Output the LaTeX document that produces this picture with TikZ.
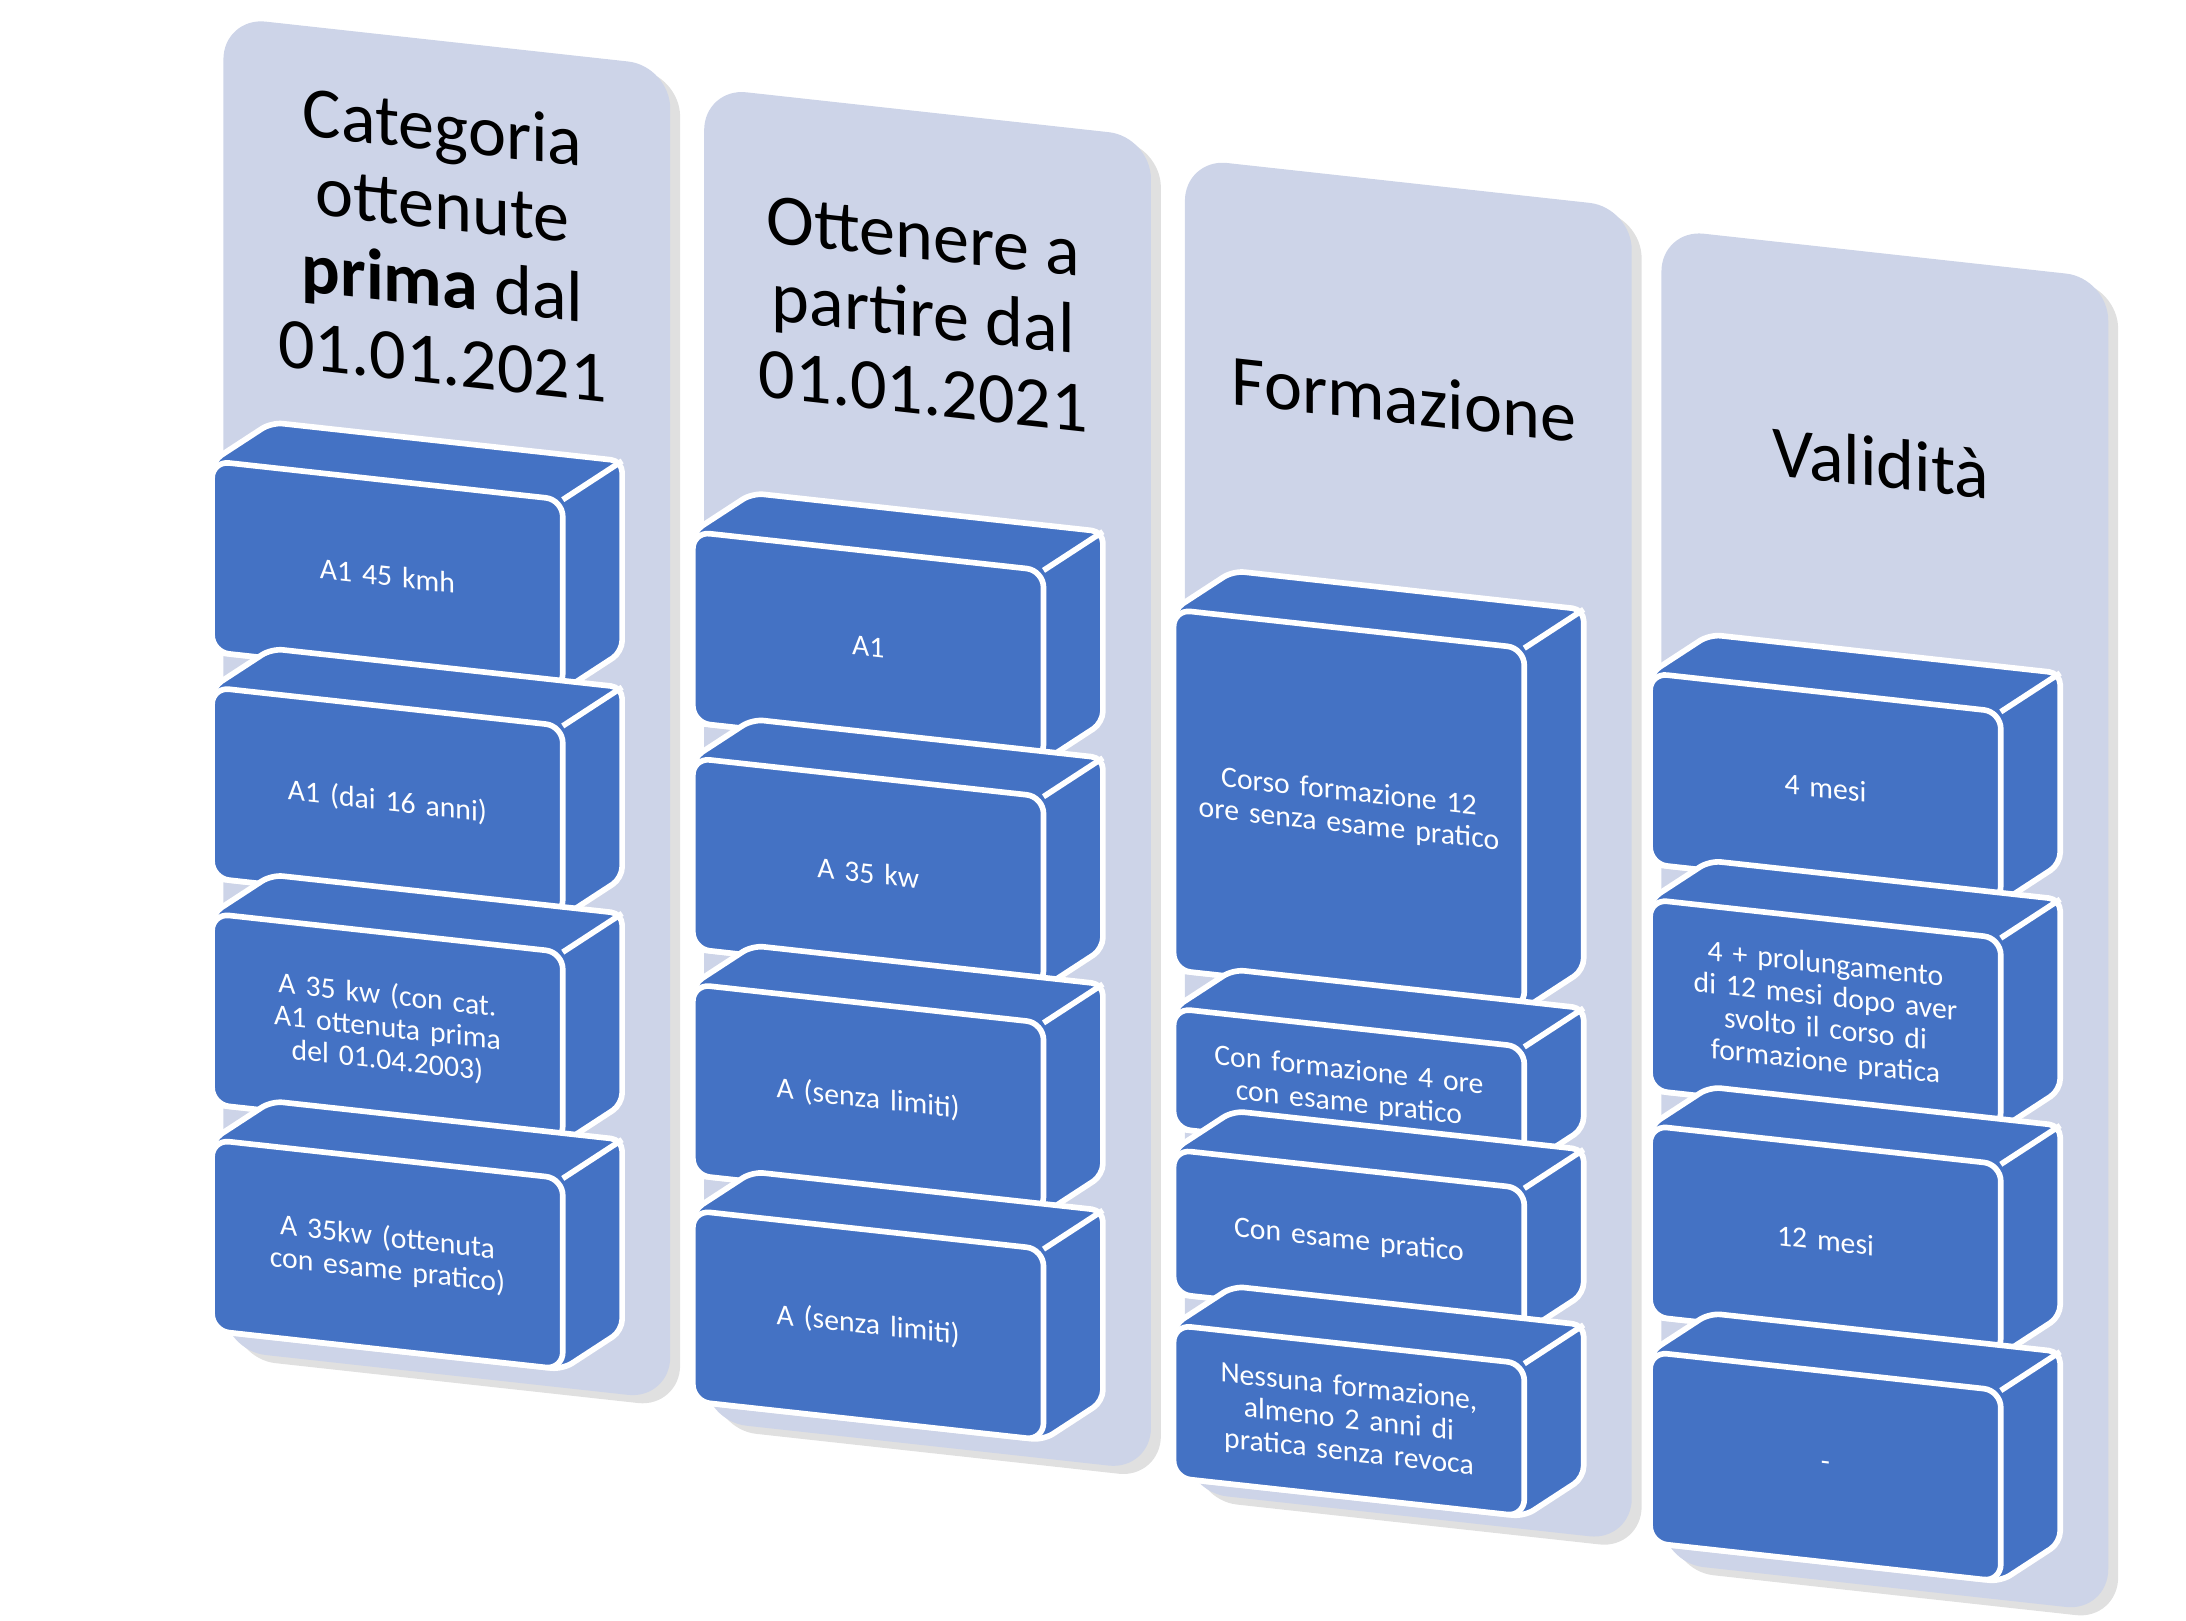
\documentclass[tikz,border=0pt]{standalone}
\usepackage{fontspec}
\setmainfont{Carlito}
\definecolor{panelblue}{HTML}{CDD4E8}
\definecolor{boxblue}{HTML}{4472C4}
\tikzset{
  panel/.style={fill=panelblue, rounded corners=30pt},
  shade/.style={fill=black!12, rounded corners=30pt},
  hull/.style={fill=boxblue, draw=white, line width=4pt, rounded corners=8pt, line join=round},
  front/.style={fill=boxblue, draw=white, line width=4pt, rounded corners=12pt},
  txt/.style={text=white, align=center, text width=236pt, inner sep=0pt, transform shape, font=\fontsize{21}{23}\selectfont},
  title/.style={align=center, transform shape, font=\fontsize{51}{55}\selectfont}
}
% u, v, height, name, text
\newcommand{\cbox}[5]{%
  \filldraw[hull] (#1,#2) -- ++(42,-32) -- ++(248,0) -- ++(0,#3) -- ++(-42,32) -- ++(-248,0) -- cycle;
  \draw[white, line width=4pt] (#1+248,#2) -- ++(42,-32);
  \filldraw[front] (#1,#2) rectangle ++(248,#3);
  \node[txt] (#4) at (#1+124,#2+#3/2) {#5};
}
\newcommand{\colpanel}[3]{% name, text, v
  \fill[shade] (7,5) rectangle (323,948);
  \fill[panel] (0,0) rectangle (316,943);
  \node[title] (#1) at (155,#3) {#2};
}
\begin{document}
\begin{tikzpicture}[x=1pt, y=-1pt]
\useasboundingbox (0,0) rectangle (1546,1146);

\begin{scope}[shift={(158,12)}, yslant=-0.11]
  \colpanel{t1}{Categoria\\ottenute\\\textbf{prima} dal\\01.01.2021}{143}
  \cbox{-8}{315}{135}{a1}{A1 45 kmh}
  \cbox{-8}{475}{135}{a2}{A1 (dai 16 anni)}
  \cbox{-8}{635}{135}{a3}{A 35 kw (con cat. A1 ottenuta prima del 01.04.2003)}
  \cbox{-8}{795}{135}{a4}{A 35kw (ottenuta con esame pratico)}
\end{scope}

\begin{scope}[shift={(498,62)}, yslant=-0.11]
  \colpanel{t2}{Ottenere a\\partire dal\\01.01.2021}{143}
  \cbox{-8}{315}{135}{b1}{A1}
  \cbox{-8}{475}{135}{b2}{A 35 kw}
  \cbox{-8}{635}{135}{b3}{A (senza limiti)}
  \cbox{-8}{795}{135}{b4}{A (senza limiti)}
\end{scope}

\begin{scope}[shift={(838,112)}, yslant=-0.11]
  \colpanel{t3}{Formazione}{153}
  \cbox{-8}{320}{255}{c1}{Corso formazione 12 ore senza esame pratico}
  \cbox{-8}{602}{85}{c2}{Con formazione 4 ore con esame pratico}
  \cbox{-8}{702}{102}{c3}{Con esame pratico}
  \cbox{-8}{826}{108}{c4}{Nessuna formazione, almeno 2 anni di pratica senza revoca}
\end{scope}

\begin{scope}[shift={(1175,162)}, yslant=-0.11]
  \colpanel{t4}{Validità}{148}
  \cbox{-8}{315}{135}{d1}{4 mesi}
  \cbox{-8}{475}{135}{d2}{4 + prolungamento di 12 mesi dopo aver svolto il corso di formazione pratica}
  \cbox{-8}{635}{135}{d3}{12 mesi}
  \cbox{-8}{795}{135}{d4}{-}
\end{scope}
\end{tikzpicture}
\end{document}
